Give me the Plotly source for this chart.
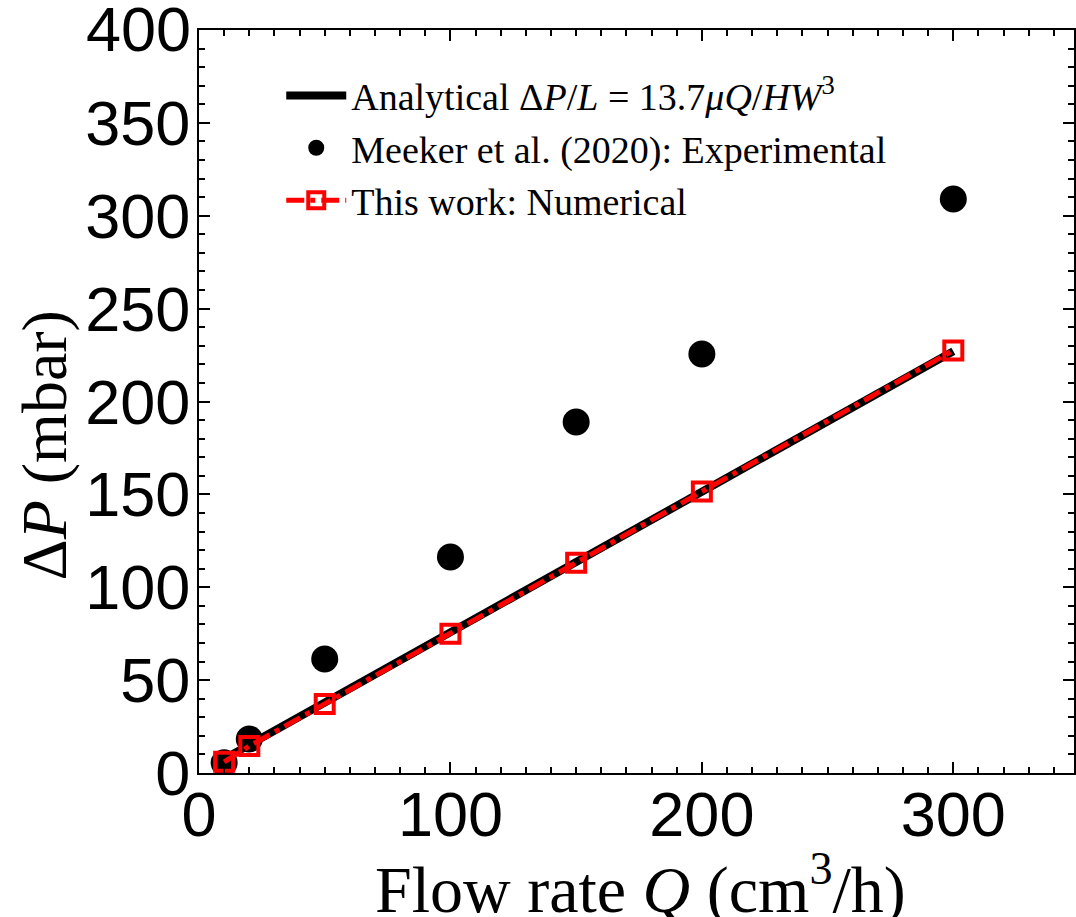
import plotly.graph_objects as go

# Data
q_analytical = [10, 20, 50, 100, 150, 200, 300]
dp_analytical = [7.6, 15.1, 37.9, 75.7, 113.6, 151.4, 227.1]

q_exp = [10, 20, 50, 100, 150, 200, 300]
dp_exp = [5.5, 18.3, 61.4, 116.3, 189.0, 225.6, 309.0]

q_num = [10, 20, 50, 100, 150, 200, 300]
dp_num = [6.0, 14.5, 37.2, 75.0, 113.2, 151.5, 227.5]

x_ticks = [0, 100, 200, 300]
y_ticks = [0, 50, 100, 150, 200, 250, 300, 350]
y_top_label = 400

SERIF = "Liberation Serif, Times New Roman, serif"
SANS = "Liberation Sans, Arial, sans-serif"

fig = go.Figure()

fig.add_trace(go.Scatter(
    x=q_exp, y=dp_exp, mode="markers",
    name="Meeker et al. (2020): Experimental",
    marker=dict(symbol="circle", size=27, color="black"),
    legendrank=2,
))
fig.add_trace(go.Scatter(
    x=q_analytical, y=dp_analytical, mode="lines",
    name="Analytical Δ<i>P</i>/<i>L</i> = 13.7<i>μQ</i>/<i>HW</i><sup>3</sup>",
    line=dict(color="black", width=8),
    legendrank=1,
))
fig.add_trace(go.Scatter(
    x=q_num, y=dp_num, mode="lines+markers",
    name="This work: Numerical",
    line=dict(color="red", width=5, dash="18px,6px,5px,6px"),
    marker=dict(symbol="square-open", size=18, color="red",
                line=dict(color="red", width=4)),
    legendrank=3,
))

axis_common = dict(
    showline=True, linecolor="black", linewidth=2, mirror="ticks",
    ticks="inside", ticklen=11, tickwidth=2, tickcolor="black",
    showgrid=False, zeroline=False,
    tickfont=dict(family=SANS, size=63, color="black"),
)

fig.update_xaxes(
    range=[0, 348], tickvals=x_ticks,
    minor=dict(dtick=10, ticks="inside", ticklen=6, tickwidth=2, tickcolor="black"),
    ticklabelstandoff=-15,
    **axis_common,
)
fig.update_yaxes(
    range=[0, 400], tickvals=y_ticks,
    minor=dict(dtick=10, ticks="inside", ticklen=6, tickwidth=2, tickcolor="black"),
    ticklabelstandoff=-6,
    **axis_common,
)

# top y tick label (plotly drops it at the figure edge)
fig.add_annotation(
    text=str(y_top_label), xref="paper", yref="y", x=0, y=y_top_label,
    xanchor="right", yanchor="middle", xshift=-6, yshift=1, showarrow=False,
    font=dict(family=SANS, size=63, color="black"),
)

fig.add_annotation(
    text="Flow rate <i>Q</i> (cm<sup>3</sup>/h)",
    xref="paper", yref="paper", x=0.504, y=-0.151,
    xanchor="center", yanchor="middle", showarrow=False,
    font=dict(family=SERIF, size=66, color="black"),
)
fig.add_annotation(
    text="Δ<i>P</i> (mbar)",
    xref="paper", yref="paper", x=-0.177, y=0.441,
    xanchor="center", yanchor="middle", showarrow=False, textangle=-90,
    font=dict(family=SERIF, size=64, color="black"),
)

fig.update_layout(
    width=1076, height=917,
    margin=dict(l=199, r=0, t=30, b=144),
    paper_bgcolor="white", plot_bgcolor="white",
    showlegend=True,
    legend=dict(
        x=0.094, y=0.954, xanchor="left", yanchor="top",
        bgcolor="rgba(0,0,0,0)", borderwidth=0,
        font=dict(family=SERIF, size=38, color="black"),
        itemwidth=60, tracegroupgap=0,
    ),
)

fig.write_html(
    "out.html",
    config={"displayModeBar": False},
    post_script="document.body.style.margin='0';document.body.style.overflow='hidden';",
)
